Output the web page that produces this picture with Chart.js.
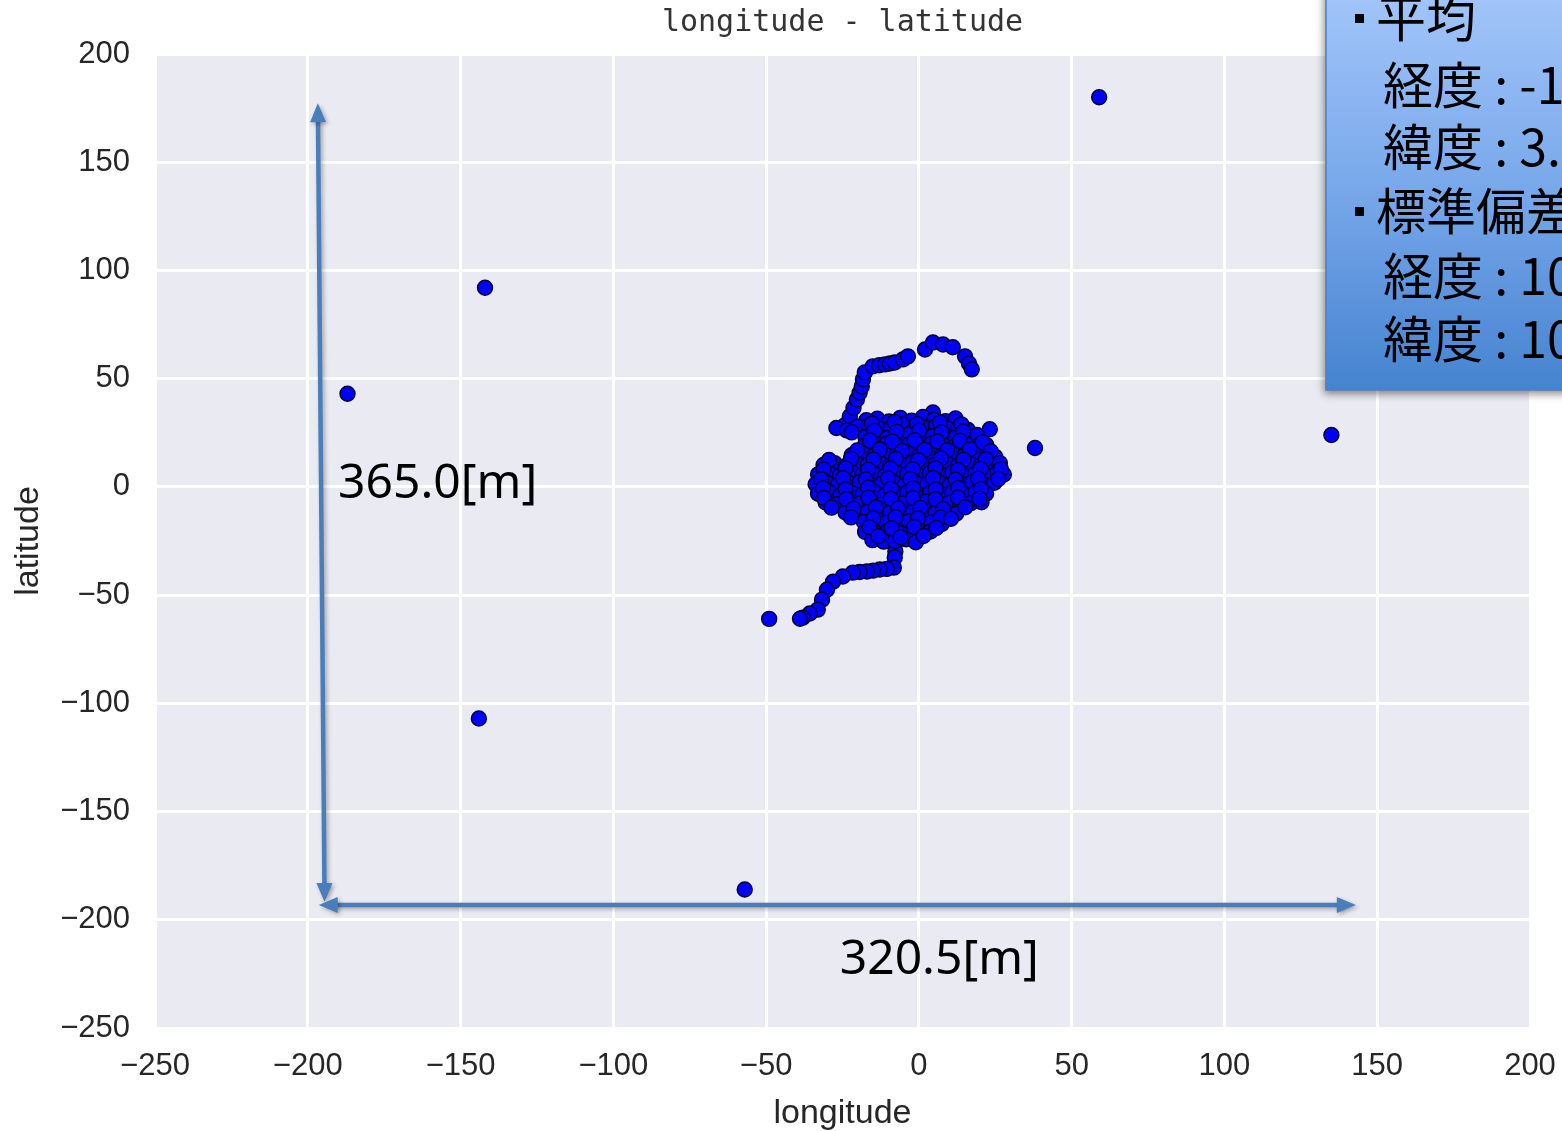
<!DOCTYPE html>
<html lang="ja">
<head>
<meta charset="UTF-8">
<title>longitude - latitude</title>
<style>
  body { margin: 0; background: #fff; }
  #wrap { width: 1562px; height: 1131px; position: relative; }
</style>
<script src="https://cdn.jsdelivr.net/npm/chart.js"></script>
</head>
<body>
<div id="wrap"><canvas id="scatter"></canvas></div>
<script>
// tick values shared by both axes
const tickValues = [-250, -200, -150, -100, -50, 0, 50, 100, 150, 200];

// isolated fixes far from the cluster
const outlierLon = [59, -142, -187, 135, 38, -144, -57, -49];
const outlierLat = [180, 92, 43, 24, 18, -107, -186, -61];

// track leaving the cluster to the north
const trackNorthLon = [-24.2, -22.6, -21.4, -20.3, -19.4, -18.7, -18.3, -17.7, -15.1, -13.0, -11.1, -9.5, -7.9, -5.2, -3.6, 2.0, 4.6, 7.9, 11.1, 15.1, 16.4, 17.3];
const trackNorthLat = [28.5, 32.6, 36.5, 40.4, 43.5, 46.4, 49.7, 52.9, 55.7, 56.2, 56.6, 57.0, 57.5, 58.9, 60.3, 63.5, 66.7, 65.8, 64.5, 60.3, 57.0, 54.3];

// track leaving the cluster to the south-west
const trackSouthLon = [-7.9, -7.7, -7.9, -8.2, -10.5, -12.8, -15.0, -17.0, -19.4, -21.6, -24.9, -28.1, -30.1, -31.7, -33.1, -35.7, -38.0, -38.9];
const trackSouthLat = [-26.6, -29.8, -32.6, -37.3, -37.9, -38.2, -38.7, -39.1, -39.3, -39.6, -41.4, -43.8, -47.5, -52.1, -56.7, -58.5, -60.4, -60.9];

// small spur on the north-east edge
const spurLon = [23.2, 20.6, 18.3, 4.6];
const spurLat = [26.6, 20.6, 15.0, 34.4];

// dense cluster around the origin, read row by row
const clusterLon = [
  -17.2, -13.6, -9.8, -6.1, -2.4, 1.3, 5.0, 8.7, 12.0,
  -27.0, -23.6, -20.1, -16.4, -12.8, -9.1, -5.5, -1.8, 1.9, 5.6, 9.3, 13.0, 16.0,
  -17.5, -13.9, -10.3, -6.6, -2.9, 0.8, 4.5, 8.2, 11.9, 15.6, 19.0,
  -17.8, -14.2, -10.5, -6.9, -3.2, 0.5, 4.2, 7.9, 11.6, 15.3, 19.0, 22.0,
  -22.0, -18.3, -14.6, -11.0, -7.3, -3.6, 0.1, 3.8, 7.5, 11.2, 14.9, 18.6, 22.2, 25.0,
  -31.2, -27.6, -24.0, -20.3, -16.7, -13.0, -9.4, -5.7, -2.0, 1.7, 5.4, 9.1, 12.8, 16.5, 20.2, 23.9, 26.5,
  -33.0, -29.4, -25.8, -22.1, -18.5, -14.8, -11.2, -7.5, -3.8, -0.1, 3.6, 7.3, 11.0, 14.7, 18.4, 22.1, 25.7, 27.8,
  -33.8, -30.2, -26.6, -22.9, -19.3, -15.6, -12.0, -8.3, -4.7, -1.0, 2.7, 6.4, 10.1, 13.8, 17.5, 21.2, 24.7,
  -33.0, -29.3, -25.7, -22.0, -18.4, -14.7, -11.1, -7.4, -3.8, -0.1, 3.6, 7.3, 11.0, 14.7, 18.4, 22.0,
  -30.5, -26.9, -23.2, -19.6, -15.9, -12.3, -8.6, -5.0, -1.3, 2.4, 6.1, 9.8, 13.5, 17.0, 20.5,
  -24.0, -20.4, -16.7, -13.0, -9.4, -5.7, -2.0, 1.7, 5.4, 9.0, 12.2,
  -18.0, -14.3, -10.7, -7.0, -3.3, 0.4, 4.1, 7.5,
  -17.6, -14.0, -10.3, -6.6, -2.9, 0.8, 3.8,
  -15.2, -11.5, -7.9, -4.2, -1.0
];
const clusterLat = [
  30.8, 31.5, 30.2, 31.9, 30.6, 32.3, 31.0, 30.4, 31.6,
  27.2, 26.1, 27.9, 28.4, 26.8, 27.6, 28.9, 26.5, 27.3, 28.1, 26.9, 27.7, 26.4,
  23.0, 24.1, 22.6, 23.8, 24.5, 22.9, 23.5, 24.2, 22.7, 23.3, 24.0,
  19.0, 18.4, 19.9, 18.8, 19.5, 18.2, 20.1, 19.3, 18.6, 19.8, 18.9, 19.4,
  14.6, 15.4, 14.2, 15.8, 14.9, 15.3, 14.4, 15.6, 14.8, 15.1, 14.3, 15.7, 14.7, 13.9,
  10.1, 11.0, 9.6, 10.8, 10.3, 11.4, 9.9, 10.6, 11.2, 9.7, 10.5, 11.1, 10.0, 10.9, 9.8, 10.4, 11.0,
  5.8, 6.5, 5.2, 6.9, 5.5, 6.2, 5.0, 6.7, 5.9, 5.3, 6.4, 5.6, 6.8, 5.1, 6.0, 5.4, 6.6, 5.7,
  1.2, 2.0, 0.8, 1.7, 2.3, 0.9, 1.5, 2.1, 0.6, 1.8, 1.1, 2.4, 0.7, 1.6, 2.2, 1.0, 1.9,
  -3.2, -2.5, -3.8, -2.9, -3.5, -2.2, -3.9, -3.0, -2.6, -3.6, -2.8, -3.3, -2.4, -3.7, -2.7, -3.1,
  -7.2, -8.0, -6.9, -7.8, -7.4, -8.3, -7.0, -7.6, -8.1, -6.8, -7.7, -7.3, -8.2, -7.5, -7.1,
  -11.8, -12.5, -11.4, -12.8, -11.9, -12.3, -11.6, -12.9, -12.1, -11.7, -12.4,
  -16.2, -17.0, -16.5, -17.3, -15.9, -16.8, -16.4, -17.1,
  -20.8, -21.5, -20.4, -21.2, -20.9, -21.7, -20.6,
  -24.6, -25.3, -25.0, -24.2, -25.6
];

// extra fixes sitting between the rows above
const clusterFillLon = [
  -15.4, -8.0, -0.6, 6.9, 13.9,
  -22.0, -14.6, -7.3, 0.1, 7.4, 14.5,
  -16.0, -8.7, -1.4, 6.0, 13.4, 20.8,
  -20.2, -12.8, -5.5, 1.9, 9.3, 16.7, 23.5,
  -29.4, -22.2, -14.8, -7.5, -0.2, 7.2, 14.6, 21.9,
  -31.2, -24.0, -16.6, -9.3, -2.0, 5.4, 12.8, 20.2, 26.8,
  -32.0, -24.8, -17.4, -10.1, -2.8, 4.6, 12.0, 19.4, 26.0,
  -31.4, -24.0, -16.6, -9.2, -1.9, 5.5, 12.9, 20.3,
  -31.1, -23.8, -16.5, -9.2, -1.9, 5.4, 12.8, 19.8,
  -28.6, -21.4, -14.1, -6.8, 0.5, 7.9, 15.2,
  -22.2, -14.9, -7.6, -0.3, 7.1, 10.5,
  -16.2, -8.9, -1.6, 5.7,
  -13.3, -6.0, 1.5
];
const clusterFillLat = [
  29.3, 29.9, 29.0, 29.7, 28.9,
  25.2, 25.9, 25.4, 26.0, 25.1, 25.6,
  21.4, 20.9, 21.6, 21.0, 21.3, 20.7,
  16.8, 17.3, 16.6, 17.1, 16.9, 17.4, 16.5,
  12.4, 13.0, 12.6, 12.9, 12.3, 13.1, 12.5, 12.8,
  8.0, 8.5, 7.9, 8.4, 8.1, 8.6, 7.8, 8.3, 8.2,
  3.5, 4.0, 3.4, 3.9, 3.6, 4.1, 3.3, 3.8, 3.7,
  -0.6, -1.1, -0.4, -0.9, -0.7, -1.2, -0.5, -1.0,
  -5.1, -5.6, -5.0, -5.5, -5.2, -5.7, -4.9, -5.4,
  -9.6, -10.1, -9.5, -10.0, -9.7, -10.2, -9.4,
  -14.1, -14.6, -14.0, -14.5, -14.2, -14.7,
  -18.6, -19.1, -18.5, -19.0,
  -22.8, -23.3, -22.7
];

// annotation texts
const spanLabels = ['365.0[m]', '320.5[m]'];
const statsLines = ['平均', '経度 : -1', '緯度 : 3.9', '標準偏差', '経度 : 10', '緯度 : 10'];

function pairs(lon, lat) {
  return lon.map((x, i) => ({ x: x, y: lat[i] }));
}

const points = [].concat(
  pairs(outlierLon, outlierLat),
  pairs(trackNorthLon, trackNorthLat),
  pairs(trackSouthLon, trackSouthLat),
  pairs(spurLon, spurLat),
  pairs(clusterLon, clusterLat),
  pairs(clusterFillLon, clusterFillLat)
);

const SANS = "'Liberation Sans', Arial, sans-serif";
const ink = '#262626';

function fmt(v) {
  return v < 0 ? '\u2212' + Math.abs(v) : String(v);
}

// grey plot background like seaborn
const plotBg = {
  id: 'plotBg',
  beforeDraw(chart) {
    const a = chart.chartArea, c = chart.ctx;
    c.save();
    c.fillStyle = '#eaeaf2';
    c.fillRect(a.left, a.top, a.right - a.left, a.bottom - a.top);
    c.restore();
  }
};

function arrowHead(c, x0, y0, x1, y1) {
  const ang = Math.atan2(y1 - y0, x1 - x0);
  const len = 19, half = 8;
  c.beginPath();
  c.moveTo(x1, y1);
  c.lineTo(x1 - len * Math.cos(ang) + half * Math.sin(ang), y1 - len * Math.sin(ang) - half * Math.cos(ang));
  c.lineTo(x1 - len * Math.cos(ang) - half * Math.sin(ang), y1 - len * Math.sin(ang) + half * Math.cos(ang));
  c.closePath();
  c.fill();
}

function doubleArrow(c, x0, y0, x1, y1) {
  const ang = Math.atan2(y1 - y0, x1 - x0);
  const inset = 14;
  c.beginPath();
  c.moveTo(x0 + inset * Math.cos(ang), y0 + inset * Math.sin(ang));
  c.lineTo(x1 - inset * Math.cos(ang), y1 - inset * Math.sin(ang));
  c.stroke();
  arrowHead(c, x0, y0, x1, y1);
  arrowHead(c, x1, y1, x0, y0);
}

// span arrows, their labels and the stats box
const overlay = {
  id: 'overlay',
  afterDraw(chart) {
    const c = chart.ctx;
    const xs = chart.scales.x, ys = chart.scales.y;
    const px = v => xs.getPixelForValue(v);
    const py = v => ys.getPixelForValue(v);

    c.save();
    c.strokeStyle = '#4a7ebb';
    c.fillStyle = '#4a7ebb';
    c.lineWidth = 4.5;
    c.shadowColor = 'rgba(0,0,0,0.3)';
    c.shadowBlur = 4;
    c.shadowOffsetX = 2;
    c.shadowOffsetY = 2;
    doubleArrow(c, px(-194.5), py(-191.8), px(-196.7), py(177.3));
    doubleArrow(c, px(-196.4), py(-193.2), px(143.0), py(-193.2));
    c.restore();

    c.save();
    c.fillStyle = '#000';
    c.font = "48px 'Noto Sans', 'Open Sans', sans-serif";
    c.textBaseline = 'middle';
    c.textAlign = 'left';
    c.fillText(spanLabels[0], px(-190.1), py(1.0));
    c.fillText(spanLabels[1], px(-25.9), py(-218.6));
    c.restore();

    // stats box, clipped by the right edge of the canvas
    const bx = chart.width - 236, by = -12, bw = 260, bh = 402;
    c.save();
    c.shadowColor = 'rgba(0,0,0,0.45)';
    c.shadowBlur = 8;
    c.shadowOffsetX = -2;
    c.shadowOffsetY = 4;
    const g = c.createLinearGradient(0, by, 0, by + bh);
    g.addColorStop(0, '#a3c6fa');
    g.addColorStop(0.5, '#78a8ea');
    g.addColorStop(1, '#4583d0');
    c.fillStyle = g;
    c.fillRect(bx, by, bw, bh);
    c.restore();
    c.save();
    c.strokeStyle = '#4f7fbf';
    c.lineWidth = 1.5;
    c.strokeRect(bx, by, bw, bh);
    c.fillStyle = '#000';
    c.textBaseline = 'middle';
    c.font = "50px 'Noto Sans CJK JP', sans-serif";
    const rows = [18, 85, 147, 211, 276, 339];
    statsLines.forEach((t, i) => {
      const heading = i === 0 || i === 3;
      c.fillText(t, heading ? bx + 50 : bx + 57, rows[i]);
      if (heading) c.fillRect(bx + 29, rows[i] - 4, 9, 9);
    });
    c.restore();
  }
};

const axisCommon = {
  type: 'linear',
  min: -250,
  max: 200,
  afterBuildTicks(scale) {
    scale.ticks = tickValues.map(v => ({ value: v }));
  },
  grid: { color: '#ffffff', lineWidth: 3, drawTicks: false },
  border: { display: false },
};

new Chart(document.getElementById('scatter'), {
  type: 'scatter',
  data: {
    datasets: [{
      data: points,
      pointRadius: 7.5,
      pointHoverRadius: 7.5,
      pointBackgroundColor: '#0000ff',
      pointBorderColor: '#00002e',
      pointBorderWidth: 1.4
    }]
  },
  options: {
    responsive: true,
    maintainAspectRatio: false,
    animation: false,
    layout: { padding: { left: 0, right: 32, top: 0, bottom: 0 } },
    plugins: {
      legend: { display: false },
      tooltip: { enabled: false },
      title: {
        display: true,
        fullSize: false,
        text: 'longitude - latitude',
        color: '#333',
        font: { family: "'DejaVu Sans Mono', monospace", size: 30, weight: 'normal', lineHeight: 1.2 },
        padding: { top: 5, bottom: 13 }
      }
    },
    scales: {
      x: Object.assign({}, axisCommon, {
        position: 'bottom',
        afterFit(scale) { scale.height = 103; scale.paddingLeft = 0; scale.paddingRight = 0; },
        ticks: { color: ink, padding: 20, maxRotation: 0, font: { family: SANS, size: 31 }, callback: fmt },
        title: { display: true, text: 'longitude', color: ink, font: { family: SANS, size: 34, lineHeight: 1 }, padding: { top: 0, bottom: 0 } }
      }),
      y: Object.assign({}, axisCommon, {
        position: 'left',
        afterFit(scale) { scale.width = 155; scale.paddingTop = 0; scale.paddingBottom = 0; },
        ticks: { color: ink, padding: 25, font: { family: SANS, size: 31 }, callback: fmt },
        title: { display: true, text: 'latitude', color: ink, font: { family: SANS, size: 34, lineHeight: 1 }, padding: { top: 12, bottom: 0 } }
      })
    }
  },
  plugins: [plotBg, overlay]
});
</script>
</body>
</html>
